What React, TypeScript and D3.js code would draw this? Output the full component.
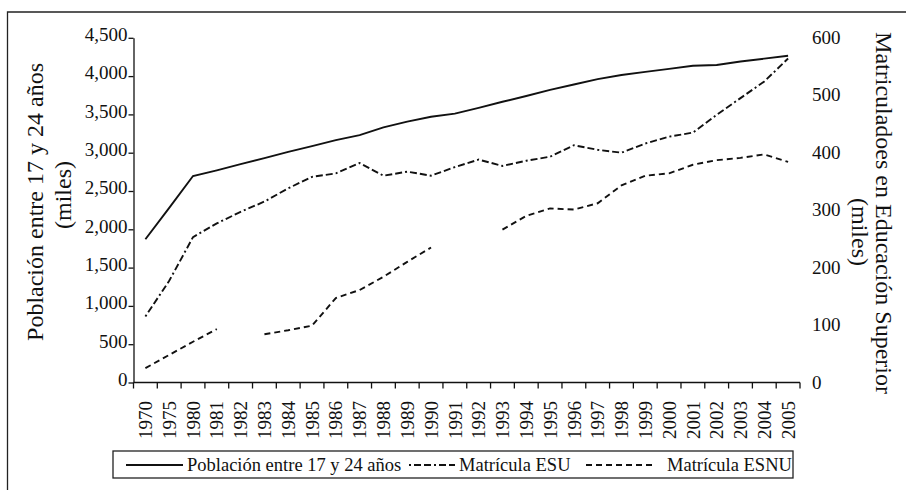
import React, { useEffect, useRef } from "react";
import * as d3 from "d3";

const years = [
  "1970", "1975", "1980", "1981", "1982", "1983", "1984", "1985", "1986", "1987",
  "1988", "1989", "1990", "1991", "1992", "1993", "1994", "1995", "1996", "1997",
  "1998", "1999", "2000", "2001", "2002", "2003", "2004", "2005",
];

// miles de personas (eje izquierdo)
const poblacion = [
  1870, 2280, 2696, 2770, 2850, 2930, 3010, 3085, 3165, 3230,
  3330, 3405, 3470, 3510, 3585, 3665, 3740, 3820, 3890, 3960,
  4015, 4055, 4095, 4135, 4145, 4190, 4228, 4266,
];

// miles de matriculados (eje derecho)
const matriculaESU = [
  115, 177, 253, 277, 297, 315, 338, 358, 364, 382,
  360, 367, 360, 375, 388, 377, 386, 393, 413, 405,
  400, 416, 428, 435, 466, 495, 524, 564,
];

const matriculaESNU: (number | null)[] = [
  25, 48, 71, 93, null, 84, 91, 99, 147, 161,
  184, 210, 235, null, null, 266, 290, 303, 301, 312,
  343, 360, 364, 379, 387, 391, 397, 384,
];

const leftTicks = [0, 500, 1000, 1500, 2000, 2500, 3000, 3500, 4000, 4500];
const rightTicks = [0, 100, 200, 300, 400, 500, 600];

const FONT = "'Liberation Serif', 'Times New Roman', serif";
const INK = "#111";

const App = () => {
  const ref = useRef<SVGSVGElement>(null);

  useEffect(() => {
    const svg = d3.select(ref.current);
    svg.selectAll("*").remove();

    const left = 133.5;
    const right = 800;
    const bottom = 382.5;
    const top = 37.8;

    const x = d3.scaleBand<string>().domain(years).range([left, right]);
    const bw = x.bandwidth();
    const cx = (i: number) => (x(years[i]) as number) + bw / 2;

    const yL = d3.scaleLinear().domain([0, 4500]).range([bottom, top]);
    const yR = d3.scaleLinear().domain([0, 600]).range([bottom, top]);

    // outer frame (cropped at right and bottom)
    svg
      .append("path")
      .attr("d", "M7.5,490V12H906")
      .attr("fill", "none")
      .attr("stroke", "#222")
      .attr("stroke-width", 1.3);

    // x axis
    const gx = svg.append("g");
    gx.append("line")
      .attr("x1", left)
      .attr("x2", right)
      .attr("y1", bottom)
      .attr("y2", bottom)
      .attr("stroke", INK)
      .attr("stroke-width", 1.3);
    const bounds = years.map((d) => x(d) as number).concat([right]);
    gx.selectAll("line.tick")
      .data(bounds)
      .enter()
      .append("line")
      .attr("class", "tick")
      .attr("x1", (d) => d)
      .attr("x2", (d) => d)
      .attr("y1", bottom)
      .attr("y2", bottom + 6)
      .attr("stroke", INK)
      .attr("stroke-width", 1.3);
    gx.selectAll("text")
      .data(years)
      .enter()
      .append("text")
      .attr("transform", (d, i) => `translate(${cx(i)}, 401) rotate(-90)`)
      .attr("text-anchor", "end")
      .attr("dy", "0.35em")
      .style("font-family", FONT)
      .style("font-size", "19px")
      .style("fill", INK)
      .text((d) => d);

    // left axis
    const gl = svg
      .append("g")
      .attr("transform", `translate(${left},0)`)
      .call(
        d3
          .axisLeft(yL)
          .tickValues(leftTicks)
          .tickSize(5)
          .tickSizeOuter(0)
          .tickPadding(1)
          .tickFormat(d3.format(",") as any)
      );
    gl.select(".domain").attr("stroke", INK).attr("stroke-width", 1.3);
    gl.selectAll(".tick line").attr("stroke", INK).attr("stroke-width", 1.3);
    gl.selectAll(".tick text")
      .attr("dy", "0.15em")
      .style("font-family", FONT)
      .style("font-size", "19px")
      .style("fill", INK);

    // right axis: labels only
    svg
      .append("g")
      .selectAll("text")
      .data(rightTicks)
      .enter()
      .append("text")
      .attr("x", 812)
      .attr("y", (d) => yR(d))
      .attr("dy", "0.32em")
      .style("font-family", FONT)
      .style("font-size", "19px")
      .style("fill", INK)
      .text((d) => d);

    // axis titles
    const title = (tx: number, ty: number, rot: number, txt: string) =>
      svg
        .append("text")
        .attr("transform", `translate(${tx}, ${ty}) rotate(${rot})`)
        .attr("text-anchor", "middle")
        .style("font-family", FONT)
        .style("font-size", "24px")
        .style("fill", INK)
        .text(txt);
    title(43, 202, -90, "Población entre 17 y 24 años");
    title(71, 195, -90, "(miles)");
    title(876, 213, 90, "Matriculadoes en Educación Superior");
    title(852, 232, 90, "(miles)");

    // series
    const lineL = d3
      .line<number>()
      .x((d, i) => cx(i))
      .y((d) => yL(d));
    const lineR = d3
      .line<number | null>()
      .defined((d) => d != null)
      .x((d, i) => cx(i))
      .y((d) => yR(d as number));

    const series = [
      { name: "Población entre 17 y 24 años", path: lineL(poblacion), dash: null },
      { name: "Matrícula ESU", path: lineR(matriculaESU), dash: "2,3,7,3,7,3" },
      { name: "Matrícula ESNU", path: lineR(matriculaESNU), dash: "6,4" },
    ];

    svg
      .append("g")
      .selectAll("path")
      .data(series)
      .enter()
      .append("path")
      .attr("d", (d) => d.path)
      .attr("fill", "none")
      .attr("stroke", INK)
      .attr("stroke-width", 1.9)
      .attr("stroke-dasharray", (d) => d.dash);

    // legend
    const lg = svg.append("g");
    lg.append("rect")
      .attr("x", 113)
      .attr("y", 451)
      .attr("width", 680)
      .attr("height", 27)
      .attr("fill", "none")
      .attr("stroke", "#222")
      .attr("stroke-width", 1.3);
    const items = [
      { x1: 126, x2: 183, tx: 187 },
      { x1: 409, x2: 455, tx: 459 },
      { x1: 586, x2: 655, tx: 667 },
    ];
    items.forEach((it, i) => {
      lg.append("line")
        .attr("x1", it.x1)
        .attr("x2", it.x2)
        .attr("y1", 465)
        .attr("y2", 465)
        .attr("stroke", INK)
        .attr("stroke-width", 1.9)
        .attr("stroke-dasharray", series[i].dash);
      lg.append("text")
        .attr("x", it.tx)
        .attr("y", 471)
        .style("font-family", FONT)
        .style("font-size", "18.5px")
        .style("fill", INK)
        .text(series[i].name);
    });
  }, []);

  return (
    <svg
      ref={ref}
      width={906}
      height={490}
      style={{ position: "absolute", left: 0, top: 0, background: "#fff" }}
    />
  );
};

export default App;
